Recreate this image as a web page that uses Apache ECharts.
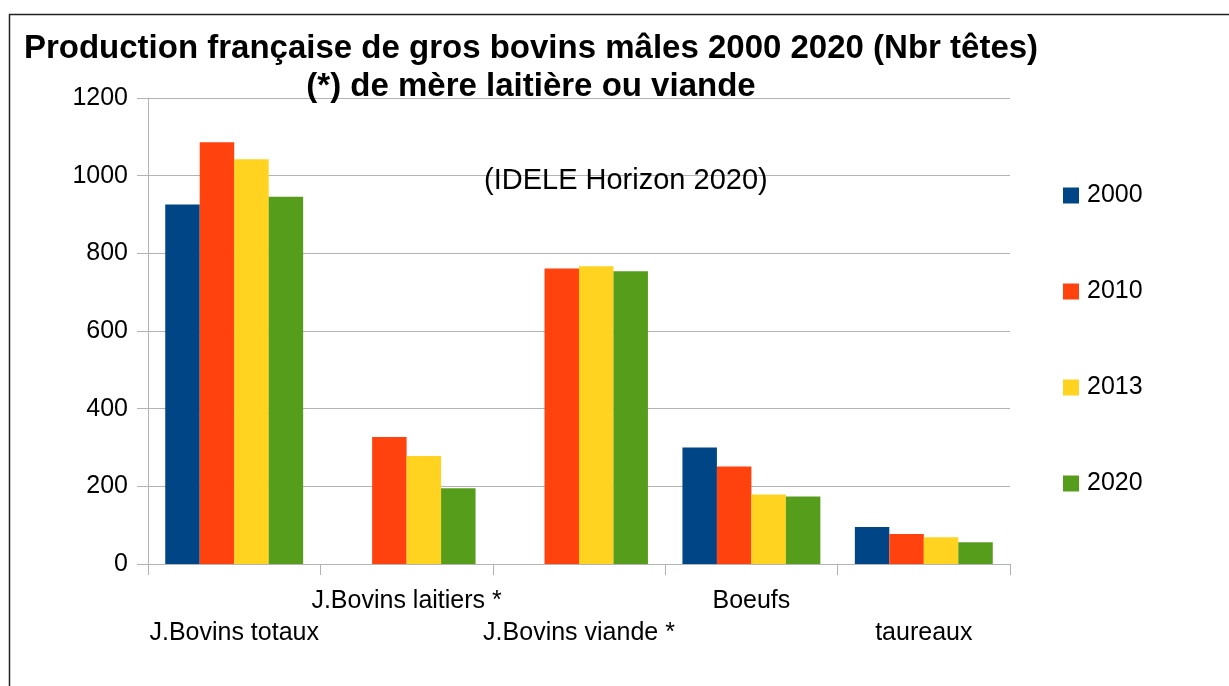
<!DOCTYPE html>
<html>
<head>
<meta charset="utf-8">
<script src="https://cdn.jsdelivr.net/npm/echarts@6/dist/echarts.min.js"></script>
<style>
html,body{margin:0;padding:0;background:#fff;}
#chart{width:1229px;height:686px;}
</style>
</head>
<body>
<div id="chart"></div>
<script>
const categories = ['J.Bovins totaux', 'J.Bovins laitiers *', 'J.Bovins viande *', 'Boeufs', 'taureaux'];
const seriesNames = ['2000', '2010', '2013', '2020'];
const values2000 = [926, null, null, 300, 95];
const values2010 = [1086, 327, 761, 251, 77];
const values2013 = [1042, 278, 767, 179, 69];
const values2020 = [946, 195, 754, 174, 56];
const yTicks = [0, 200, 400, 600, 800, 1000, 1200];
const colors = ['#004586', '#ff420e', '#ffd320', '#579d1c'];

const allValues = [values2000, values2010, values2013, values2020];
const FONT = '"Liberation Sans", Arial, sans-serif';

const chart = echarts.init(document.getElementById('chart'));
chart.setOption({
  animation: false,
  backgroundColor: '#fff',
  title: {
    text: 'Production française de gros bovins mâles 2000 2020 (Nbr têtes)\n(*) de mère laitière ou viande',
    left: 531,
    top: 30,
    textAlign: 'center',
    padding: 0,
    textStyle: { fontFamily: FONT, fontSize: 33, fontWeight: 'bold', color: '#000', lineHeight: 38 }
  },
  graphic: [
    {
      type: 'rect', silent: true, z: 100,
      shape: { x: 9.5, y: 14.5, width: 1400, height: 900 },
      style: { fill: null, stroke: '#222', lineWidth: 1.5 }
    },
    {
      type: 'text', silent: true, z: 50,
      left: 484, top: 166,
      style: { text: '(IDELE Horizon 2020)', fontFamily: FONT, fontSize: 29, fill: '#000' }
    }
  ],
  legend: {
    orient: 'vertical',
    left: 1063,
    top: 183,
    itemWidth: 16,
    itemHeight: 16,
    itemGap: 71,
    icon: 'rect',
    padding: 0,
    textStyle: { fontFamily: FONT, fontSize: 25, color: '#000', padding: [0, 0, 0, 3] },
    data: seriesNames
  },
  grid: { left: 148, right: 219, top: 98, bottom: 122, containLabel: false },
  xAxis: {
    type: 'category',
    data: categories,
    axisLine: { lineStyle: { color: '#b3b3b3', width: 1 } },
    axisTick: { show: true, length: 11, lineStyle: { color: '#b3b3b3' } },
    axisLabel: {
      interval: 0,
      margin: 21,
      fontFamily: FONT, fontSize: 25, color: '#000', lineHeight: 32,
      formatter: function (v, i) { return i % 2 === 0 ? '\n' + v : v; }
    },
    splitLine: { show: false }
  },
  yAxis: {
    type: 'value',
    min: yTicks[0],
    max: yTicks[yTicks.length - 1],
    interval: 200,
    axisLine: { show: true, lineStyle: { color: '#b3b3b3', width: 1 } },
    axisTick: { show: true, length: 11, lineStyle: { color: '#b3b3b3' } },
    axisLabel: {
      margin: 20, fontFamily: FONT, fontSize: 25, color: '#000',
      formatter: function (v) { return String(v); }
    },
    splitLine: { show: true, lineStyle: { color: '#b3b3b3', width: 1 } }
  },
  series: seriesNames.map((name, k) => ({
    name: name,
    type: 'bar',
    data: allValues[k],
    barGap: '0%',
    barCategoryGap: '20%',
    itemStyle: { color: colors[k] }
  }))
});
</script>
</body>
</html>
